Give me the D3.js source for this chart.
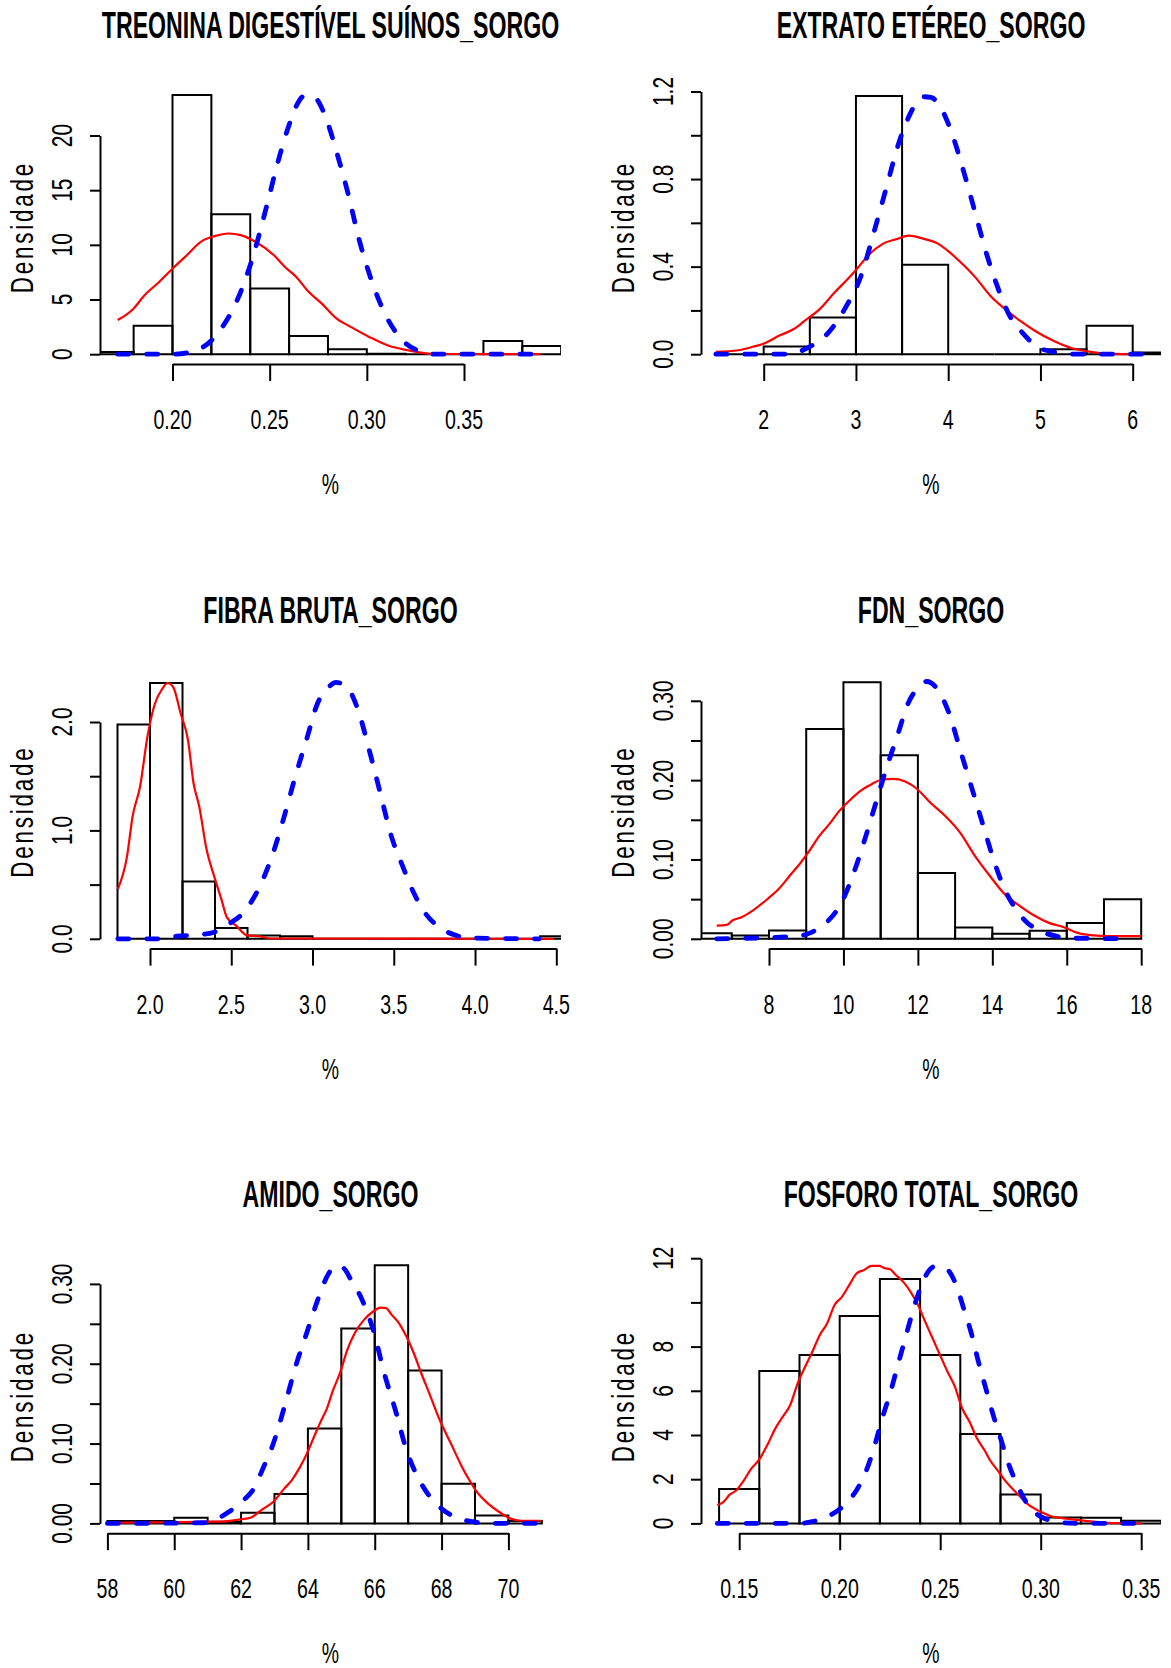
<!DOCTYPE html>
<html>
<head>
<meta charset="utf-8">
<script src="https://cdn.jsdelivr.net/npm/d3@7"></script>
<style>
  html, body { margin: 0; padding: 0; background: #ffffff; }
  svg { display: block; }
</style>
</head>
<body>
<svg id="chart" width="1171" height="1668"></svg>
<script>
// ---------- data ----------
const panelTitles = [
  "TREONINA DIGESTÍVEL SUÍNOS_SORGO",
  "EXTRATO ETÉREO_SORGO",
  "FIBRA BRUTA_SORGO",
  "FDN_SORGO",
  "AMIDO_SORGO",
  "FOSFORO TOTAL_SORGO"
];
const yAxisTitle = "Densidade";
const xAxisTitle = "%";

// Treonina digestível
const treoninaBreaks = [0.16, 0.18, 0.20, 0.22, 0.24, 0.26, 0.28, 0.30, 0.32, 0.34, 0.36, 0.38, 0.40];
const treoninaDensity = [0.21, 2.61, 23.7, 12.79, 6.01, 1.66, 0.46, 0.05, 0, 0, 1.2, 0.74];
const treoninaKde = [[0.1718,3.13],[0.1798,4.14],[0.1855,5.37],[0.1931,6.60],[0.2000,7.82],[0.2065,8.90],[0.2151,10.34],[0.2217,10.80],[0.2288,11.04],[0.2351,10.89],[0.2427,10.28],[0.2522,9.05],[0.2579,7.98],[0.2637,7.06],[0.2694,5.83],[0.2770,4.60],[0.2837,3.37],[0.2922,2.45],[0.3018,1.53],[0.3113,0.77],[0.3208,0.37],[0.3342,0.02],[0.3894,0]];
const treoninaNormal = [[0.1718,0],[0.2008,0],[0.2103,0.25],[0.2179,0.92],[0.2255,2.45],[0.2332,4.91],[0.2408,8.59],[0.2484,13.50],[0.2541,17.48],[0.2598,20.86],[0.2637,22.70],[0.2684,23.68],[0.2732,23.47],[0.2789,21.63],[0.2846,18.40],[0.2903,14.72],[0.2961,10.43],[0.3018,7.06],[0.3094,3.68],[0.3170,1.53],[0.3265,0.31],[0.3342,0],[0.3894,0]];
const treoninaXTicks = [0.20, 0.25, 0.30, 0.35];
const treoninaXLabels = ["0.20", "0.25", "0.30", "0.35"];
const treoninaYTicks = [0, 5, 10, 15, 20];
const treoninaYLabels = ["0", "5", "10", "15", "20"];

// Extrato etéreo
const extratoBreaks = [1.5, 2.0, 2.5, 3.0, 3.5, 4.0, 4.5, 5.0, 5.5, 6.0, 6.5];
const extratoDensity = [0, 0.035, 0.168, 1.18, 0.409, 0, 0, 0.023, 0.13, 0.008];
const extratoKde = [[1.481,0.011],[1.723,0.018],[1.883,0.034],[2.004,0.049],[2.165,0.084],[2.326,0.115],[2.446,0.153],[2.607,0.206],[2.768,0.282],[2.929,0.351],[3.009,0.389],[3.130,0.450],[3.290,0.504],[3.451,0.527],[3.572,0.542],[3.733,0.527],[3.893,0.504],[4.014,0.466],[4.135,0.420],[4.295,0.351],[4.456,0.267],[4.617,0.206],[4.778,0.153],[4.939,0.107],[5.140,0.061],[5.341,0.027],[5.542,0.011],[5.743,0.003],[6.105,0]];
const extratoNormal = [[1.481,0],[2.245,0],[2.486,0.031],[2.687,0.092],[2.888,0.214],[3.049,0.351],[3.210,0.580],[3.331,0.763],[3.451,0.947],[3.572,1.084],[3.733,1.176],[3.813,1.173],[3.934,1.115],[4.054,0.992],[4.175,0.824],[4.296,0.641],[4.416,0.458],[4.537,0.305],[4.657,0.183],[4.818,0.092],[4.979,0.031],[5.180,0.008],[5.341,0],[6.105,0]];
const extratoXTicks = [2, 3, 4, 5, 6];
const extratoXLabels = ["2", "3", "4", "5", "6"];
const extratoYTicks = [0, 0.2, 0.4, 0.6, 0.8, 1.0, 1.2];
const extratoYLabels = ["0.0", "", "0.4", "", "0.8", "", "1.2"];

// Fibra bruta
const fibraBreaks = [1.8, 2.0, 2.2, 2.4, 2.6, 2.8, 3.0, 3.2, 3.4, 3.6, 3.8, 4.0, 4.2, 4.4, 4.6];
const fibraDensity = [1.976, 2.36, 0.528, 0.10, 0.03, 0.024, 0, 0, 0, 0, 0, 0, 0, 0.024];
const fibraKde = [[1.802,0.458],[1.859,0.763],[1.893,1.130],[1.939,1.405],[1.984,1.863],[2.030,2.168],[2.075,2.305],[2.109,2.360],[2.143,2.321],[2.189,2.076],[2.234,1.832],[2.268,1.435],[2.303,1.221],[2.348,0.824],[2.394,0.580],[2.439,0.366],[2.473,0.198],[2.530,0.122],[2.598,0.031],[2.667,0.024],[2.746,0.003],[4.486,0]];
const fibraNormal = [[1.802,0],[2.075,0],[2.166,0.024],[2.303,0.037],[2.394,0.061],[2.485,0.137],[2.576,0.244],[2.667,0.458],[2.758,0.794],[2.826,1.130],[2.894,1.496],[2.962,1.832],[3.030,2.168],[3.099,2.321],[3.144,2.366],[3.212,2.321],[3.281,2.107],[3.349,1.740],[3.417,1.344],[3.485,0.947],[3.554,0.672],[3.622,0.427],[3.690,0.244],[3.781,0.107],[3.872,0.037],[3.986,0.006],[4.395,0]];
const fibraXTicks = [2.0, 2.5, 3.0, 3.5, 4.0, 4.5];
const fibraXLabels = ["2.0", "2.5", "3.0", "3.5", "4.0", "4.5"];
const fibraYTicks = [0, 0.5, 1.0, 1.5, 2.0];
const fibraYLabels = ["0.0", "", "1.0", "", "2.0"];

// FDN
const fdnBreaks = [6, 7, 8, 9, 10, 11, 12, 13, 14, 15, 16, 17, 18];
const fdnDensity = [0.0071, 0.0042, 0.0105, 0.2644, 0.3234, 0.2314, 0.0828, 0.0142, 0.0063, 0.010, 0.020, 0.050];
const fdnKde = [[6.597,0.0167],[6.866,0.0176],[7.015,0.0230],[7.264,0.0272],[7.562,0.0356],[7.960,0.0502],[8.259,0.0628],[8.557,0.0795],[8.856,0.0962],[9.055,0.1088],[9.353,0.1297],[9.652,0.1464],[9.851,0.1590],[10.149,0.1736],[10.448,0.1862],[10.746,0.1946],[11.045,0.2008],[11.343,0.2017],[11.642,0.1987],[11.940,0.1904],[12.338,0.1715],[12.736,0.1548],[13.134,0.1339],[13.532,0.1046],[13.930,0.0795],[14.328,0.0565],[14.726,0.0418],[15.124,0.0293],[15.522,0.0201],[15.920,0.0146],[16.318,0.0071],[16.716,0.0042],[17.114,0.0033],[18.0,0.0033]];
const fdnNormal = [[6.597,0],[8.756,0.0033],[9.154,0.0084],[9.552,0.0209],[9.950,0.0460],[10.249,0.0795],[10.547,0.1213],[10.846,0.1674],[11.144,0.2134],[11.443,0.2552],[11.741,0.2971],[12.040,0.3180],[12.239,0.3243],[12.537,0.3138],[12.836,0.2845],[13.134,0.2385],[13.433,0.1925],[13.731,0.1464],[14.030,0.1004],[14.328,0.0628],[14.627,0.0377],[14.925,0.0209],[15.323,0.0092],[15.721,0.0033],[16.119,0.0008],[17.711,0]];
const fdnXTicks = [8, 10, 12, 14, 16, 18];
const fdnXLabels = ["8", "10", "12", "14", "16", "18"];
const fdnYTicks = [0, 0.05, 0.10, 0.15, 0.20, 0.25, 0.30];
const fdnYLabels = ["0.00", "", "0.10", "", "0.20", "", "0.30"];

// Amido
const amidoBreaks = [58, 59, 60, 61, 62, 63, 64, 65, 66, 67, 68, 69, 70, 71];
const amidoDensity = [0.003, 0.003, 0.007, 0.002, 0.0134, 0.0368, 0.119, 0.244, 0.3234, 0.1914, 0.0497, 0.010, 0.003];
const amidoKde = [[58.0,0.0008],[61.418,0.0021],[61.971,0.0050],[62.303,0.0075],[62.635,0.0176],[62.967,0.0272],[63.299,0.0439],[63.520,0.0543],[63.741,0.0689],[63.973,0.0877],[64.184,0.1086],[64.405,0.1295],[64.571,0.1442],[64.737,0.1651],[64.958,0.1881],[65.179,0.2173],[65.400,0.2382],[65.677,0.2549],[65.954,0.2654],[66.175,0.2704],[66.341,0.2696],[66.507,0.2612],[66.728,0.2507],[66.949,0.2340],[67.170,0.2131],[67.392,0.1881],[67.613,0.1651],[67.945,0.1295],[68.277,0.1003],[68.608,0.0711],[68.830,0.0543],[69.051,0.0397],[69.383,0.0251],[69.715,0.0146],[70.046,0.0063],[70.378,0.0033],[70.987,0.0033]];
const amidoNormal = [[58.0,0],[60.865,0.0008],[61.308,0.0063],[61.639,0.0146],[62.082,0.0293],[62.414,0.0460],[62.635,0.0669],[62.967,0.1003],[63.299,0.1463],[63.631,0.1964],[63.962,0.2382],[64.294,0.2800],[64.626,0.3134],[64.847,0.3226],[65.069,0.3197],[65.290,0.3051],[65.622,0.2800],[65.954,0.2424],[66.285,0.1881],[66.617,0.1421],[66.949,0.0919],[67.281,0.0585],[67.613,0.0355],[68.055,0.0167],[68.498,0.0063],[68.940,0.0021],[69.383,0],[70.987,0]];
const amidoXTicks = [58, 60, 62, 64, 66, 68, 70];
const amidoXLabels = ["58", "60", "62", "64", "66", "68", "70"];
const amidoYTicks = [0, 0.05, 0.10, 0.15, 0.20, 0.25, 0.30];
const amidoYLabels = ["0.00", "", "0.10", "", "0.20", "", "0.30"];

// Fósforo total
const fosforoBreaks = [0.14, 0.16, 0.18, 0.20, 0.22, 0.24, 0.26, 0.28, 0.30, 0.32, 0.34, 0.36];
const fosforoDensity = [1.555, 6.90, 7.62, 9.39, 11.06, 7.62, 4.05, 1.31, 0.27, 0.26, 0.12];
const fosforoKde = [[0.1391,0.83],[0.1423,0.98],[0.1450,1.28],[0.1487,1.51],[0.1524,1.96],[0.1561,2.49],[0.1598,2.87],[0.1644,3.62],[0.1680,4.30],[0.1717,4.83],[0.1754,5.36],[0.1791,6.34],[0.1828,7.09],[0.1864,7.77],[0.1901,8.53],[0.1938,9.06],[0.1975,9.89],[0.2012,10.26],[0.2048,10.79],[0.2085,11.32],[0.2122,11.47],[0.2159,11.65],[0.2196,11.65],[0.2223,11.55],[0.2251,11.50],[0.2278,11.25],[0.2315,10.94],[0.2352,10.49],[0.2389,9.89],[0.2425,9.13],[0.2462,8.38],[0.2499,7.62],[0.2536,6.87],[0.2573,6.19],[0.2609,5.21],[0.2646,4.60],[0.2683,3.85],[0.2720,3.32],[0.2747,2.87],[0.2784,2.42],[0.2821,1.96],[0.2858,1.58],[0.2895,1.24],[0.2931,0.91],[0.2968,0.68],[0.3005,0.50],[0.3060,0.30],[0.3115,0.23],[0.3189,0.15],[0.3263,0.08],[0.3373,0.01],[0.3502,0]];
const fosforoNormal = [[0.1391,0],[0.1791,0],[0.1864,0.08],[0.1938,0.30],[0.1993,0.60],[0.2048,1.06],[0.2103,1.81],[0.2140,2.57],[0.2177,3.62],[0.2214,4.83],[0.2251,5.89],[0.2287,7.09],[0.2324,8.30],[0.2361,9.51],[0.2398,10.57],[0.2435,11.32],[0.2471,11.62],[0.2508,11.62],[0.2545,11.40],[0.2582,10.72],[0.2619,9.66],[0.2655,8.60],[0.2692,7.25],[0.2729,6.04],[0.2766,4.83],[0.2803,3.77],[0.2839,2.72],[0.2876,1.89],[0.2931,0.91],[0.2987,0.38],[0.3042,0.15],[0.3115,0.03],[0.3189,0],[0.3502,0]];
const fosforoXTicks = [0.15, 0.20, 0.25, 0.30, 0.35];
const fosforoXLabels = ["0.15", "0.20", "0.25", "0.30", "0.35"];
const fosforoYTicks = [0, 2, 4, 6, 8, 10, 12];
const fosforoYLabels = ["0", "2", "4", "6", "8", "", "12"];

// ---------- layout ----------
const ROW_STEP = 584.6;
const COLUMNS = [{ left: 100, right: 561 }, { left: 701, right: 1161 }];
const PLOT_TOP = 90, PLOT_BOTTOM = 364, ZERO_Y = 354.2;
const FONT = "'Liberation Sans', Arial, Helvetica, sans-serif";

// pixel span of the first/last x tick and the height of the top y tick (row-relative)
const panels = [
  { title: panelTitles[0], breaks: treoninaBreaks, density: treoninaDensity, kde: treoninaKde, normal: treoninaNormal,
    xTicks: treoninaXTicks, xLabels: treoninaXLabels, yTicks: treoninaYTicks, yLabels: treoninaYLabels,
    xRange: [172.5, 464.0], yTopPx: 135.5 },
  { title: panelTitles[1], breaks: extratoBreaks, density: extratoDensity, kde: extratoKde, normal: extratoNormal,
    xTicks: extratoXTicks, xLabels: extratoXLabels, yTicks: extratoYTicks, yLabels: extratoYLabels,
    xRange: [763.7, 1132.7], yTopPx: 91.5 },
  { title: panelTitles[2], breaks: fibraBreaks, density: fibraDensity, kde: fibraKde, normal: fibraNormal,
    xTicks: fibraXTicks, xLabels: fibraXLabels, yTicks: fibraYTicks, yLabels: fibraYLabels,
    xRange: [150.0, 556.3], yTopPx: 137.4 },
  { title: panelTitles[3], breaks: fdnBreaks, density: fdnDensity, kde: fdnKde, normal: fdnNormal,
    xTicks: fdnXTicks, xLabels: fdnXLabels, yTicks: fdnYTicks, yLabels: fdnYLabels,
    xRange: [769.0, 1141.2], yTopPx: 116.2 },
  { title: panelTitles[4], breaks: amidoBreaks, density: amidoDensity, kde: amidoKde, normal: amidoNormal,
    xTicks: amidoXTicks, xLabels: amidoXLabels, yTicks: amidoYTicks, yLabels: amidoYLabels,
    xRange: [107.4, 508.4], yTopPx: 114.7 },
  { title: panelTitles[5], breaks: fosforoBreaks, density: fosforoDensity, kde: fosforoKde, normal: fosforoNormal,
    xTicks: fosforoXTicks, xLabels: fosforoXLabels, yTicks: fosforoYTicks, yLabels: fosforoYLabels,
    xRange: [739.2, 1141.2], yTopPx: 89.0 }
];

const svg = d3.select("#chart");
svg.append("rect").attr("width", 1171).attr("height", 1668).attr("fill", "#ffffff");

// condensed text: c squeezes glyphs along the reading direction
function addText(g, str, x, y, o) {
  const rot = o.rotate || 0;
  const t = g.append("text")
    .attr("transform", `translate(${x},${y}) rotate(${rot}) scale(${o.c},1)`)
    .attr("text-anchor", "middle")
    .style("font-family", FONT)
    .style("font-size", o.size + "px")
    .style("font-weight", o.bold ? "bold" : "normal")
    .attr("fill", "#000")
    .text(str);
  if (o.spacing) t.style("letter-spacing", o.spacing + "px");
  return t;
}

panels.forEach((p, i) => {
  const col = i % 2, row = Math.floor(i / 2);
  const oy = row * ROW_STEP;
  const left = COLUMNS[col].left, right = COLUMNS[col].right;
  const top = oy + PLOT_TOP, bottom = oy + PLOT_BOTTOM;

  const x = d3.scaleLinear()
    .domain([p.xTicks[0], p.xTicks[p.xTicks.length - 1]])
    .range(p.xRange);
  const y = d3.scaleLinear()
    .domain([0, p.yTicks[p.yTicks.length - 1]])
    .range([oy + ZERO_Y, oy + p.yTopPx]);

  const g = svg.append("g");
  const clipId = "clip" + i;
  g.append("clipPath").attr("id", clipId)
    .append("rect")
    .attr("x", left).attr("y", top)
    .attr("width", right - left).attr("height", bottom - top);

  const plot = g.append("g").attr("clip-path", `url(#${clipId})`);

  // histogram bars (outline only, empty bins drawn as flat lines)
  const bins = p.density.map((d, k) => ({ x0: p.breaks[k], x1: p.breaks[k + 1], d }));
  plot.selectAll("path.bar").data(bins).join("path")
    .attr("class", "bar")
    .attr("d", b => {
      const x0 = x(b.x0), x1 = x(b.x1), y0 = y(0), y1 = y(b.d);
      return `M${x0},${y0}V${y1}H${x1}V${y0}Z`;
    })
    .attr("fill", "none")
    .attr("stroke", "#000")
    .attr("stroke-width", 2)
    .attr("stroke-linejoin", "miter");

  const line = d3.line()
    .x(d => x(d[0]))
    .y(d => y(d[1]))
    .curve(d3.curveMonotoneX);

  // observed density curve
  plot.append("path")
    .attr("d", line(p.kde))
    .attr("fill", "none")
    .attr("stroke", "#ff0000")
    .attr("stroke-width", 2.2)
    .attr("stroke-linejoin", "round");

  // reference normal curve, dashed
  plot.append("path")
    .attr("d", line(p.normal))
    .attr("fill", "none")
    .attr("stroke", "#0000ff")
    .attr("stroke-width", 4.8)
    .attr("stroke-linecap", "round")
    .attr("stroke-dasharray", "11,18");

  // axes
  const xAxis = d3.axisBottom(x).tickValues(p.xTicks).tickSize(17).tickSizeOuter(0).tickFormat("");
  const xg = g.append("g").attr("transform", `translate(0,${bottom})`).call(xAxis);
  const yAxis = d3.axisLeft(y).tickValues(p.yTicks).tickSize(10).tickSizeOuter(0).tickFormat("");
  const yg = g.append("g").attr("transform", `translate(${left},0)`).call(yAxis);
  [xg, yg].forEach(a => {
    a.selectAll("path.domain").attr("stroke", "#000").attr("stroke-width", 2);
    a.selectAll(".tick line").attr("stroke", "#000").attr("stroke-width", 2);
  });

  // tick labels
  p.xTicks.forEach((v, k) => {
    addText(g, p.xLabels[k], x(v), oy + 429, { size: 28, c: 0.70 });
  });
  p.yTicks.forEach((v, k) => {
    if (p.yLabels[k]) addText(g, p.yLabels[k], left - 28, y(v), { size: 30, c: 0.70, rotate: -90 });
  });

  // titles
  const cx = (left + right) / 2;
  addText(g, p.title, cx, oy + 38, { size: 37, c: 0.625, bold: true });
  addText(g, xAxisTitle, cx, oy + 494, { size: 29, c: 0.67 });
  addText(g, yAxisTitle, left - 67, oy + (PLOT_TOP + PLOT_BOTTOM) / 2, { size: 32, c: 0.70, rotate: -90, spacing: 4 });
});
</script>
</body>
</html>
